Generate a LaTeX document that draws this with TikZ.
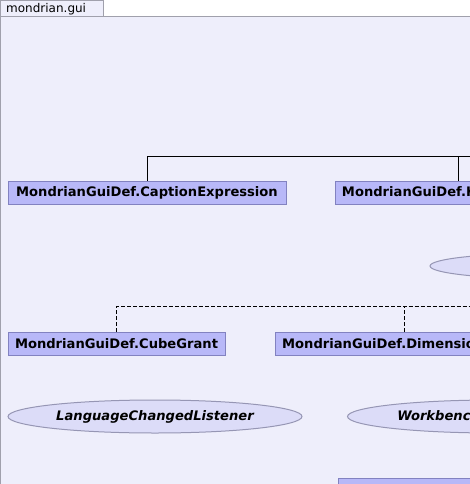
\documentclass[tikz,border=0pt]{standalone}
\usepackage{fontspec}
\setmainfont{DejaVu Sans}
\usetikzlibrary{shapes.geometric}
\definecolor{panelbg}{RGB}{238,238,251}
\definecolor{tabgray}{RGB}{160,160,172}
\definecolor{boxfill}{RGB}{184,184,248}
\definecolor{boxline}{RGB}{130,130,192}
\definecolor{ellfill}{RGB}{220,220,248}
\definecolor{ellline}{RGB}{150,150,180}
\tikzset{
  cls/.style={draw=boxline, fill=boxfill, line width=1pt, rectangle, inner sep=0pt,
    minimum height=23pt, font=\fontsize{13.1}{15}\selectfont\bfseries},
  iface/.style={draw=ellline, fill=ellfill, line width=1pt, ellipse, inner sep=0pt,
    font=\fontsize{13.1}{15}\selectfont\bfseries\itshape},
  conn/.style={line width=1pt, black},
  impl/.style={line width=1pt, black, dash pattern=on 4pt off 2pt},
}
\begin{document}
\begin{tikzpicture}[x=1pt,y=-1pt]
\useasboundingbox (0,0) rectangle (470,484);
\clip (0,0) rectangle (470,484);
\fill[white] (0,0) rectangle (470,484);
\fill[panelbg] (0,16.5) rectangle (470,484);
\draw[tabgray, line width=1pt, fill=panelbg] (0.5,0.5) rectangle (103.5,16.5);
\draw[tabgray, line width=1pt] (0.5,484) -- (0.5,16.5) -- (470,16.5);
\node[anchor=west, inner sep=0pt, font=\fontsize{12}{14}\selectfont] (tab) at (6,9) {mondrian.gui};

\node[cls, minimum width=278pt] (caption) at (147,192.5) {MondrianGuiDef.CaptionExpression};
\node[cls, minimum width=246pt] (key) at (458,192.5) {MondrianGuiDef.KeyExpression};
\coordinate (exprparent) at (490,156);
\draw[conn] (caption.north) |- (exprparent);
\draw[conn] (key.north) |- (exprparent);

\node[iface, minimum width=220pt, minimum height=25pt] (grantiface) at (540,266) {};

\node[cls, minimum width=217pt] (cube) at (116.5,343.5) {MondrianGuiDef.CubeGrant};
\node[cls, minimum width=258pt] (dim) at (404,343.5) {MondrianGuiDef.DimensionGrant};
\coordinate (grantparent) at (490,306);
\draw[impl] (cube.north) |- (grantparent);
\draw[impl] (dim.north) |- (grantparent);

\node[iface, minimum width=294pt, minimum height=33pt] (lang) at (155,416.5) {LanguageChangedListener};
\node[iface, minimum width=294pt, minimum height=33pt, anchor=west] (wb) at (347,416.5) {WorkbenchMenubarPlugin};

\node[cls, minimum width=250pt, anchor=north west] (bottom) at (338,478) {};
\end{tikzpicture}
\end{document}
